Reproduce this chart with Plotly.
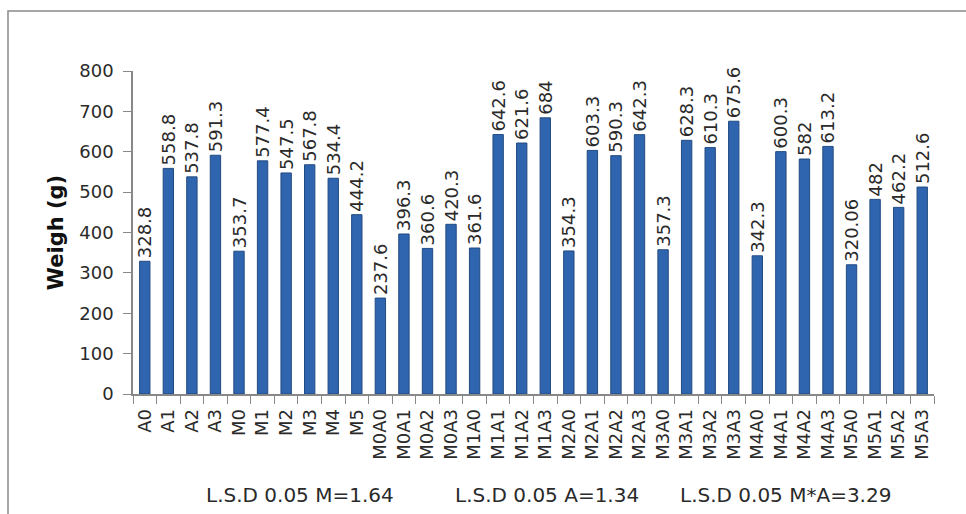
import plotly.graph_objects as go

categories = ["A0", "A1", "A2", "A3", "M0", "M1", "M2", "M3", "M4", "M5",
              "M0A0", "M0A1", "M0A2", "M0A3", "M1A0", "M1A1", "M1A2", "M1A3",
              "M2A0", "M2A1", "M2A2", "M2A3", "M3A0", "M3A1", "M3A2", "M3A3",
              "M4A0", "M4A1", "M4A2", "M4A3", "M5A0", "M5A1", "M5A2", "M5A3"]
values = [328.8, 558.8, 537.8, 591.3, 353.7, 577.4, 547.5, 567.8, 534.4, 444.2,
          237.6, 396.3, 360.6, 420.3, 361.6, 642.6, 621.6, 684, 354.3, 603.3,
          590.3, 642.3, 357.3, 628.3, 610.3, 675.6, 342.3, 600.3, 582, 613.2,
          320.06, 482, 462.2, 512.6]
labels = ["328.8", "558.8", "537.8", "591.3", "353.7", "577.4", "547.5", "567.8", "534.4", "444.2",
          "237.6", "396.3", "360.6", "420.3", "361.6", "642.6", "621.6", "684", "354.3", "603.3",
          "590.3", "642.3", "357.3", "628.3", "610.3", "675.6", "342.3", "600.3", "582", "613.2",
          "320.06", "482", "462.2", "512.6"]
lsd_notes = ["L.S.D 0.05 M=1.64", "L.S.D 0.05 A=1.34", "L.S.D 0.05 M*A=3.29"]
y_title = "Weigh (g)"

W, H = 966, 514
L, R, T, B = 133, 32, 71, 120
pw, ph = W - L - R, H - T - B
FONT = "DejaVu Sans"
TXT = "#2a2a2a"

def px_x(px):
    return (px - L) / pw

def px_y(py):
    return 1 - (py - T) / ph

fig = go.Figure(go.Bar(
    x=categories, y=values, text=labels,
    textposition="outside", textangle=-90, cliponaxis=False, constraintext="none",
    textfont=dict(family=FONT, size=18, color=TXT),
    marker=dict(color="#2F65AE", line=dict(color="#224a82", width=1)),
))

fig.update_layout(
    width=W, height=H, margin=dict(l=L, r=R, t=T, b=B),
    paper_bgcolor="white", plot_bgcolor="white",
    bargap=0.56, showlegend=False,
    font=dict(family=FONT, color=TXT),
)
fig.update_xaxes(
    type="category", tickson="boundaries", ticks="outside", ticklen=8,
    tickcolor="#888", showline=True, linecolor="#888", linewidth=1.5,
    tickangle=-90, tickfont=dict(size=18, family=FONT, color=TXT),
    ticklabelstandoff=6, showgrid=False,
)
fig.update_yaxes(
    range=[0, 800], dtick=100, ticks="outside", ticklen=8, tickcolor="#888",
    showline=True, linecolor="#888", linewidth=1.5, showgrid=False, zeroline=False,
    tickfont=dict(size=18, family=FONT, color=TXT), ticklabelstandoff=6,
    title=dict(text="<b>" + y_title + "</b>", font=dict(size=21, family=FONT, color="#111"), standoff=10),
)

note_px = [204, 453, 678]
for t, xp in zip(lsd_notes, note_px):
    fig.add_annotation(text=t, xref="paper", yref="paper", x=px_x(xp), y=px_y(495),
                       xanchor="left", yanchor="middle", showarrow=False,
                       font=dict(size=20, family=FONT, color=TXT))

fig.add_shape(type="rect", xref="paper", yref="paper",
              x0=px_x(8), x1=px_x(980), y0=px_y(530), y1=px_y(11),
              line=dict(color="#8a8a8a", width=1.5), fillcolor="rgba(0,0,0,0)")

fig.write_html("out.html")
